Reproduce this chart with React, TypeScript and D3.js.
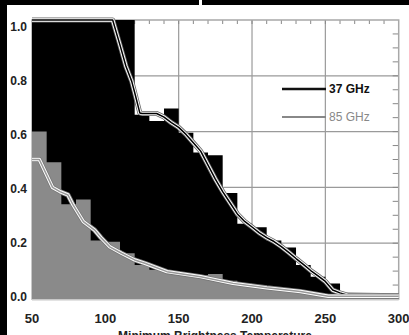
import React from "react";
import * as d3 from "d3";

const binStarts = [50, 60, 70, 80, 90, 100, 110, 120, 130, 140, 150, 160, 170, 180, 190, 200, 210, 220, 230, 240, 250, 260, 270, 280, 290];
const bars37 = [1, 1, 1, 1, 1, 1, 1, 0.66, 0.638, 0.683, 0.596, 0.525, 0.515, 0.38, 0.27, 0.257, 0.21, 0.185, 0.122, 0.08, 0.056, 0, 0, 0, 0];
const bars85 = [0.6, 0.49, 0.34, 0.357, 0.21, 0.205, 0.164, 0.122, 0.105, 0.095, 0.09, 0.085, 0.09, 0.065, 0.055, 0.048, 0.04, 0.03, 0.025, 0.018, 0.012, 0.018, 0.018, 0.018, 0.018];

const line37T = [50, 105, 110, 114, 118, 120, 123.5, 125, 135, 140, 145, 150, 155, 160, 165, 170, 175, 180, 185, 190, 195, 200, 205, 210, 215, 220, 225, 230, 235, 240, 245, 250, 255, 260, 265, 300];
const line37V = [1, 1, 0.91, 0.835, 0.78, 0.74, 0.667, 0.665, 0.665, 0.652, 0.632, 0.615, 0.59, 0.56, 0.53, 0.48, 0.43, 0.385, 0.345, 0.305, 0.278, 0.258, 0.237, 0.22, 0.206, 0.188, 0.167, 0.145, 0.124, 0.102, 0.083, 0.063, 0.032, 0.022, 0.014, 0.012];

const line85T = [50, 55, 64, 69, 74.5, 78, 85, 92.7, 97, 103, 111, 120, 127, 142, 165, 187, 210, 233, 252, 300];
const line85V = [0.5, 0.5, 0.4, 0.385, 0.373, 0.337, 0.277, 0.247, 0.22, 0.187, 0.164, 0.14, 0.128, 0.098, 0.08, 0.056, 0.04, 0.027, 0.01, 0.01];

const xTicks = [50, 100, 150, 200, 250, 300];
const yTicks = [0, 0.2, 0.4, 0.6, 0.8, 1.0];
const gridX = [100, 150, 200, 250];
const gridY = [0.2, 0.4, 0.6, 0.8];
const topMinor = d3.range(60, 300, 10);
const rightMinor = d3.range(0.05, 1.0, 0.05);
const legendItems = ["37 GHz", "85 GHz"];
const xTitle = "Minimum Brightness Temperature";

const W = 409;
const H = 335;
const FONT = "'Liberation Sans', Arial, Helvetica, sans-serif";

export default function App() {
  const x = d3.scaleLinear().domain([50, 300]).range([32, 398.7]);
  const y = d3.scaleLinear().domain([0, 1]).range([299, 20]);
  const yLab = d3.scaleLinear().domain([0, 1]).range([300.5, 31.3]);

  const mk = (T: number[], V: number[]) =>
    d3
      .line<number>()
      .x((t) => x(t))
      .y((_, i) => y(V[i]))(T) as string;
  const p37 = mk(line37T, line37V);
  const p85 = mk(line85T, line85V);

  const stepArea = (vals: number[]) => {
    const pts: [number, number][] = binStarts.map((b, i) => [b, vals[i]]);
    pts.push([300, vals[vals.length - 1]]);
    return d3
      .area<[number, number]>()
      .x((d) => x(d[0]))
      .y0(y(0))
      .y1((d) => y(d[1]))
      .curve(d3.curveStepAfter)(pts) as string;
  };
  const a37 = stepArea(bars37);
  const a85 = stepArea(bars85);

  return (
    <svg
      width={W}
      height={H}
      style={{ position: "absolute", left: 0, top: 0, background: "#fff" }}
      fontFamily={FONT}
    >
      <rect x={0} y={0} width={W} height={H} fill="#fff" />
      {/* grid */}
      {gridX.map((g) => (
        <line key={"gx" + g} x1={x(g)} x2={x(g)} y1={y(1)} y2={y(0)} stroke="#9a9a9a" strokeWidth={1.2} />
      ))}
      {gridY.map((g) => (
        <line key={"gy" + g} x1={x(50)} x2={x(300)} y1={y(g)} y2={y(g)} stroke="#9a9a9a" strokeWidth={1.2} />
      ))}
      {/* minor ticks */}
      {topMinor.map((t) => (
        <line key={"tt" + t} x1={x(t)} x2={x(t)} y1={y(1)} y2={y(1) + 4} stroke="#888" strokeWidth={1} />
      ))}
      {rightMinor.map((v) => (
        <line key={"rt" + v} x1={x(300) - 6} x2={x(300)} y1={y(v)} y2={y(v)} stroke="#888" strokeWidth={1} />
      ))}
      {/* frame */}
      <rect
        x={x(50)}
        y={y(1)}
        width={x(300) - x(50)}
        height={y(0) - y(1)}
        fill="none"
        stroke="#a8a8a8"
        strokeWidth={1.5}
      />
      {/* 37 GHz histogram */}
      <path d={a37} fill="#000" />
      {/* 85 GHz histogram */}
      <path d={a85} fill="#8a8a8a" />
      {/* light bottom & left edges */}
      <line x1={x(50)} x2={x(300)} y1={y(0) + 0.8} y2={y(0) + 0.8} stroke="#c8c8c8" strokeWidth={1.5} />
      <line x1={x(50) - 0.5} x2={x(50) - 0.5} y1={y(bars85[0])} y2={y(0)} stroke="#c8c8c8" strokeWidth={1} />
      {/* lines */}
      <path d={p37} fill="none" stroke="#666" strokeWidth={5} strokeLinejoin="round" />
      <path d={p37} fill="none" stroke="#fff" strokeWidth={3.4} strokeLinejoin="round" />
      <path d={p37} fill="none" stroke="#000" strokeWidth={1.5} strokeLinejoin="round" />
      <path d={p85} fill="none" stroke="#777" strokeWidth={5} strokeLinejoin="round" />
      <path d={p85} fill="none" stroke="#fff" strokeWidth={3.4} strokeLinejoin="round" />
      <path d={p85} fill="none" stroke="#999" strokeWidth={1.5} strokeLinejoin="round" />
      {/* legend */}
      <line x1={282} x2={326} y1={89} y2={89} stroke="#111" strokeWidth={2.5} />
      <text x={329} y={93} fontSize={12} fontWeight="bold" fill="#111">
        {legendItems[0]}
      </text>
      <line x1={282} x2={326} y1={117} y2={117} stroke="#888" strokeWidth={2} />
      <text x={329} y={121} fontSize={12} fill="#888">
        {legendItems[1]}
      </text>
      {/* y tick labels */}
      {yTicks.map((v) => (
        <text key={"yl" + v} x={27} y={yLab(v)} textAnchor="end" fontSize={12} fontWeight="bold" fill="#222">
          {v.toFixed(1)}
        </text>
      ))}
      {/* x tick labels */}
      {xTicks.map((t) => (
        <text key={"xl" + t} x={x(t)} y={323} textAnchor="middle" fontSize={13} fontWeight="bold" fill="#222">
          {t}
        </text>
      ))}
      <text x={215} y={340} textAnchor="middle" fontSize={12} fontWeight="bold" fill="#222">
        {xTitle}
      </text>
      {/* black border bands */}
      <rect x={0} y={0} width={W} height={5} fill="#000" />
      <rect x={0} y={0} width={7} height={H} fill="#000" />
      <rect x={199} y={0} width={3} height={5} fill="#fff" />
    </svg>
  );
}
